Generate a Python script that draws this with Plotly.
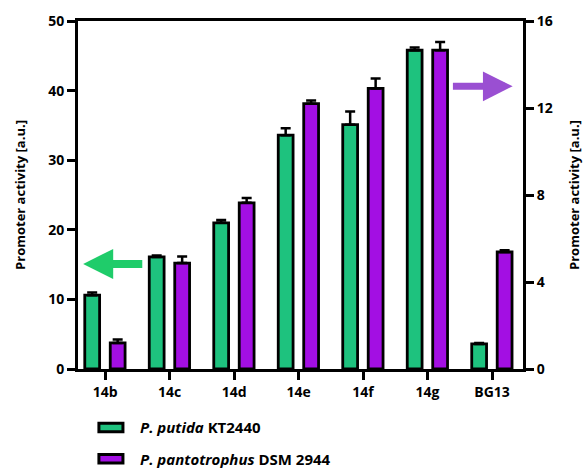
import plotly.graph_objects as go

categories = ["14b", "14c", "14d", "14e", "14f", "14g", "BG13"]
putida = [10.6, 16.1, 21.0, 33.6, 35.1, 45.8, 3.6]          # left axis
putida_err = [0.4, 0.2, 0.4, 1.0, 1.9, 0.4, 0.15]
pantotrophus = [1.2, 4.87, 7.64, 12.2, 12.9, 14.66, 5.38]    # right axis
pantotrophus_err = [0.16, 0.3, 0.22, 0.15, 0.46, 0.37, 0.08]
left_ticks = [0, 10, 20, 30, 40, 50]
right_ticks = [0, 4, 8, 12, 16]

GREEN = "#1EC27E"
PURPLE = "#A30FE3"
FONT = "Open Sans"

fig = go.Figure()
fig.add_trace(go.Bar(
    x=categories, y=putida, name="P. putida KT2440",
    width=0.23, offset=-0.315,
    marker=dict(color=GREEN, line=dict(color="black", width=2.8)),
    error_y=dict(type="data", array=putida_err, symmetric=False, arrayminus=[0]*7,
                 color="black", thickness=2.5, width=5),
    yaxis="y", showlegend=False,
))
fig.add_trace(go.Bar(
    x=categories, y=pantotrophus, name="P. pantotrophus DSM 2944",
    width=0.23, offset=0.08,
    marker=dict(color=PURPLE, line=dict(color="black", width=2.8)),
    error_y=dict(type="data", array=pantotrophus_err, symmetric=False, arrayminus=[0]*7,
                 color="black", thickness=2.5, width=5),
    yaxis="y2", showlegend=False,
))

tickfont = dict(family=FONT, size=14, color="black", weight="bold")
titlefont = dict(family=FONT, size=13, color="black", weight="bold")
fig.update_layout(
    width=587, height=473,
    margin=dict(l=78, r=64, t=21, b=104, autoexpand=False),
    plot_bgcolor="white", paper_bgcolor="white",
    font=dict(family=FONT, color="black"),
    xaxis=dict(
        type="category", range=[-0.42, 6.48], automargin=False,
        showline=True, linewidth=3, linecolor="black", mirror=True,
        ticks="outside", ticklen=8, tickwidth=3, tickcolor="black",
        tickfont=tickfont, showgrid=False, zeroline=False,
    ),
    yaxis=dict(
        range=[0, 50], tickvals=left_ticks, automargin=False,
        showline=True, linewidth=3, linecolor="black",
        ticks="outside", ticklen=8, tickwidth=3, tickcolor="black",
        tickfont=tickfont, showgrid=False, zeroline=False,
        title=dict(text="Promoter activity [a.u.]", standoff=20, font=titlefont),
    ),
    yaxis2=dict(
        range=[0, 16], tickvals=right_ticks, overlaying="y", side="right",
        automargin=False,
        showline=True, linewidth=3, linecolor="black",
        ticks="outside", ticklen=8, tickwidth=3, tickcolor="black",
        tickfont=tickfont, showgrid=False, zeroline=False,
        title=dict(text="Promoter activity [a.u.]", standoff=19, font=titlefont),
    ),
)

# Arrows indicating axis assignment
fig.add_annotation(x=-0.34, y=15.1, xref="x", yref="y", ax=0.6, ay=15.1,
                   axref="x", ayref="y", showarrow=True, arrowhead=2,
                   arrowsize=0.75, arrowwidth=8, arrowcolor="#1FCC6A", text="")
fig.add_annotation(x=6.32, y=13.0, xref="x", yref="y2", ax=5.37, ay=13.0,
                   axref="x", ayref="y2", showarrow=True, arrowhead=2,
                   arrowsize=0.85, arrowwidth=7, arrowcolor="#9A4FD2", text="")

# Manual legend
legend_items = [("<i>P. putida</i> KT2440", GREEN, -0.168),
                ("<i>P. pantotrophus</i> DSM 2944", PURPLE, -0.258)]
for label, col, yc in legend_items:
    fig.add_shape(type="rect", xref="paper", yref="paper",
                  x0=0.047, x1=0.101, y0=yc - 0.012, y1=yc + 0.012,
                  fillcolor=col, line=dict(color="black", width=3))
    fig.add_annotation(x=0.135, y=yc, xref="paper", yref="paper", text=label,
                       showarrow=False, xanchor="left", yanchor="middle",
                       font=dict(family=FONT, size=15, color="black", weight="bold"))

fig.write_html("out.html", config={"displayModeBar": False},
               post_script="document.body.style.margin='0px';document.body.style.padding='0px';")
